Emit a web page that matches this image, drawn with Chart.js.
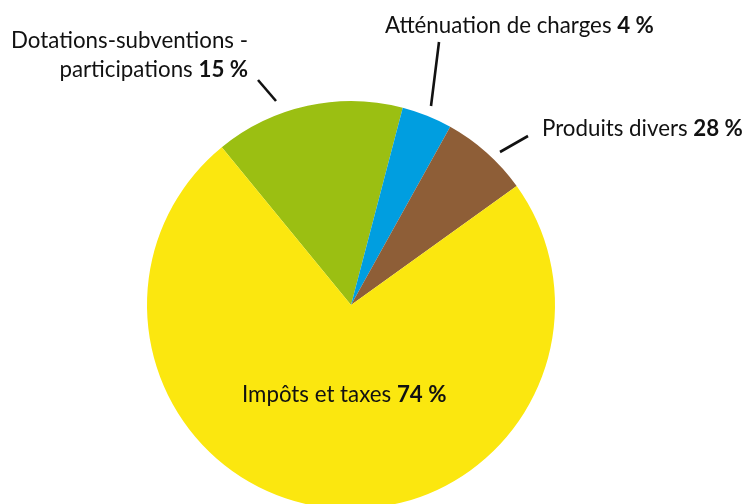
<!DOCTYPE html>
<html>
<head>
<meta charset="utf-8">
<script src="https://cdn.jsdelivr.net/npm/chart.js@4/dist/chart.umd.min.js"></script>
<style>
  html, body { margin: 0; padding: 0; background: #fff; overflow: hidden; }
  #wrap { position: absolute; left: 0; top: 0; width: 744px; height: 560px; }
</style>
</head>
<body>
<div id="wrap"><canvas id="pie" width="744" height="560"></canvas></div>
<script>
// données (ordre horaire depuis la frontière vert/jaune)
var categories = ['Dotations-subventions - participations', 'Atténuation de charges', 'Produits divers', 'Impôts et taxes'];
var values = [15, 4, 7, 74];
var pctLabels = ['15 %', '4 %', '28 %', '74 %'];   // textes tels qu'imprimés
var colors = ['#9bbf12', '#009ee0', '#8e5e37', '#fbe70f'];

// mise en page des étiquettes (pixels, relatifs au centre du camembert)
var labelLayout = [
  { lines: [['Dotations-subventions -', ''], ['participations ', 0]], align: 'right', dx: -103, dy: -257, lh: 29, lead: [-93, -225, -75, -204] },
  { lines: [['Atténuation de charges ', 1]], align: 'left', dx: 34, dy: -272, lh: 0, lead: [88, -263, 80, -199] },
  { lines: [['Produits divers ', 2]], align: 'left', dx: 191, dy: -169, lh: 0, lead: [177, -169, 149, -153] },
  { lines: [['Impôts et taxes ', 3]], align: 'left', dx: -109, dy: 97, lh: 0, lead: null }
];

var FONT = 'Lato, "Open Sans", sans-serif';
var FS = 22.3;

function drawRich(ctx, segs, x, y, align) {
  var w = 0;
  segs.forEach(function(s) {
    ctx.font = (s.bold ? 'bold ' : '') + FS + 'px ' + FONT;
    s.w = ctx.measureText(s.t).width;
    w += s.w;
  });
  var cx = align === 'right' ? x - w : (align === 'center' ? x - w / 2 : x);
  segs.forEach(function(s) {
    ctx.font = (s.bold ? 'bold ' : '') + FS + 'px ' + FONT;
    ctx.fillText(s.t, cx, y);
    cx += s.w;
  });
}

var labelPlugin = {
  id: 'labelPlugin',
  afterDatasetsDraw: function(chart) {
    var ctx = chart.ctx;
    var arc = chart.getDatasetMeta(0).data[0];
    var cx = arc.x, cy = arc.y;
    ctx.save();
    ctx.fillStyle = '#111';
    ctx.strokeStyle = '#111';
    ctx.lineWidth = 2.6;
    ctx.textBaseline = 'alphabetic';
    labelLayout.forEach(function(L) {
      L.lines.forEach(function(line, i) {
        var segs = [{ t: line[0], bold: false }];
        if (line[1] !== '') segs.push({ t: pctLabels[line[1]], bold: true });
        drawRich(ctx, segs, cx + L.dx, cy + L.dy + i * L.lh, L.align);
      });
      if (L.lead) {
        ctx.beginPath();
        ctx.moveTo(cx + L.lead[0], cy + L.lead[1]);
        ctx.lineTo(cx + L.lead[2], cy + L.lead[3]);
        ctx.stroke();
      }
    });
    ctx.restore();
  }
};

new Chart(document.getElementById('pie'), {
  type: 'pie',
  data: {
    labels: categories,
    datasets: [{
      data: values,
      backgroundColor: colors,
      borderWidth: 0
    }]
  },
  options: {
    responsive: false,
    animation: false,
    rotation: -39.3,
    layout: { padding: { left: 147, right: 189, top: 101, bottom: 51 } },
    plugins: {
      legend: { display: false },
      tooltip: { enabled: false }
    }
  },
  plugins: [labelPlugin]
});
</script>
</body>
</html>
